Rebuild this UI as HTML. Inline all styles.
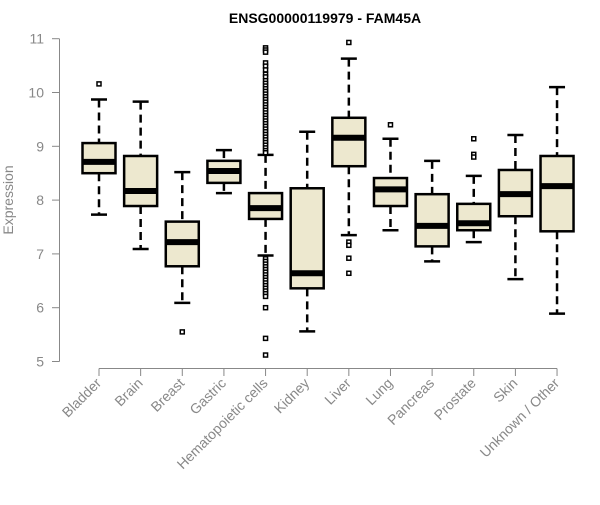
<!DOCTYPE html>
<html><head><meta charset="utf-8"><style>
body{margin:0;background:#fff}
svg{font-family:"Liberation Sans",Arial,sans-serif}
</style></head><body>
<svg id="chart" width="600" height="500"></svg>
<script>
const categories=["Bladder","Brain","Breast","Gastric","Hematopoietic cells","Kidney","Liver","Lung","Pancreas","Prostate","Skin","Unknown / Other"];
const lowWhisker=[7.73,7.09,6.09,8.13,6.97,5.56,7.35,7.44,6.86,7.22,6.53,5.89];
const q1Values=[8.50,7.89,6.77,8.32,7.65,6.36,8.63,7.89,7.14,7.44,7.70,7.42];
const medianValues=[8.71,8.17,7.22,8.54,7.85,6.64,9.16,8.20,7.52,7.57,8.11,8.26];
const q3Values=[9.06,8.82,7.60,8.73,8.13,8.22,9.53,8.41,8.11,7.93,8.56,8.82];
const highWhisker=[9.87,9.83,8.52,8.93,8.84,9.27,10.63,9.14,8.73,8.45,9.21,10.10];
const outliers=[[10.16],[],[5.55],[],
[10.83,10.79,10.75,10.55,10.49,10.42,10.34,10.29,10.22,10.17,10.12,10.07,10.02,9.97,9.92,9.87,9.82,9.77,9.72,9.67,9.62,9.57,9.52,9.47,9.42,9.37,9.32,9.27,9.22,9.17,9.12,9.07,9.02,8.97,8.92,8.88,6.91,6.86,6.81,6.76,6.71,6.66,6.61,6.56,6.51,6.46,6.41,6.36,6.31,6.26,6.21,6.00,5.43,5.12],
[],[10.93,7.22,7.16,6.92,6.64],[9.40],[],[9.14,8.85,8.80],[],[]];
const yTicks=[5,6,7,8,9,10,11];
const NS="http://www.w3.org/2000/svg";
const svg=document.getElementById('chart');
const yScale=v=>361.5-(v-5)*53.8;
const xScale=i=>99+i*41.64;
function mk(tag,attrs,parent){const e=document.createElementNS(NS,tag);for(const k in attrs)e.setAttribute(k,attrs[k]);(parent||svg).appendChild(e);return e;}
let t=mk('text',{x:325,y:23,'text-anchor':'middle','font-size':14,'font-weight':'bold',fill:'#000'});


t.textContent="ENSG00000119979 - FAM45A";
// y axis
let ya=mk('g',{});


mk('line',{x1:59.5,x2:59.5,y1:yScale(11),y2:yScale(5),stroke:'#888','stroke-width':1},ya);
yTicks.forEach(v=>{
 mk('line',{x1:52,x2:59.5,y1:yScale(v),y2:yScale(v),stroke:'#888'},ya);
 let l=mk('text',{x:44,y:yScale(v)+5,'text-anchor':'end','font-size':14,fill:'#888'},ya);
 
 
 l.textContent=v;
});
let yt=mk('text',{x:13,y:200,'text-anchor':'middle','font-size':14,fill:'#888',transform:'rotate(-90 13 200)'});


yt.textContent="Expression";
// x axis
let xa=mk('g',{});


mk('line',{x1:xScale(0),x2:xScale(categories.length-1),y1:368.5,y2:368.5,stroke:'#888'},xa);
categories.forEach((c,i)=>{
 const x=xScale(i);
 mk('line',{x1:x,x2:x,y1:368.5,y2:376,stroke:'#888'},xa);
 let l=mk('text',{x:x+3,y:384,'text-anchor':'end','font-size':14,fill:'#888',transform:`rotate(-45 ${x+3} 384)`},xa);
 
 
 l.textContent=c;
});
// boxes
categories.forEach((c,i)=>{
 const x=xScale(i),hw=16.5,cw=8;
 const g=mk('g',{});
 
 
 mk('line',{x1:x,x2:x,y1:yScale(highWhisker[i]),y2:yScale(q3Values[i]),stroke:'#000','stroke-width':2.5,'stroke-dasharray':'8 5'},g);
 mk('line',{x1:x,x2:x,y1:yScale(q1Values[i]),y2:yScale(lowWhisker[i]),stroke:'#000','stroke-width':2.5,'stroke-dasharray':'8 5'},g);
 mk('line',{x1:x-cw,x2:x+cw,y1:yScale(highWhisker[i]),y2:yScale(highWhisker[i]),stroke:'#000','stroke-width':2.5},g);
 mk('line',{x1:x-cw,x2:x+cw,y1:yScale(lowWhisker[i]),y2:yScale(lowWhisker[i]),stroke:'#000','stroke-width':2.5},g);
 mk('rect',{x:x-hw,y:yScale(q3Values[i]),width:hw*2,height:yScale(q1Values[i])-yScale(q3Values[i]),fill:'#ede8cf',stroke:'#000','stroke-width':2.5},g);
 mk('line',{x1:x-hw,x2:x+hw,y1:yScale(medianValues[i]),y2:yScale(medianValues[i]),stroke:'#000','stroke-width':6},g);
 outliers[i].forEach(v=>{
  const r=mk('rect',{x:x-2,y:yScale(v)-2,width:4,height:4,fill:'#fff',stroke:'#000','stroke-width':1.5},g);
  
  
 });
});
</script>
</body></html>
